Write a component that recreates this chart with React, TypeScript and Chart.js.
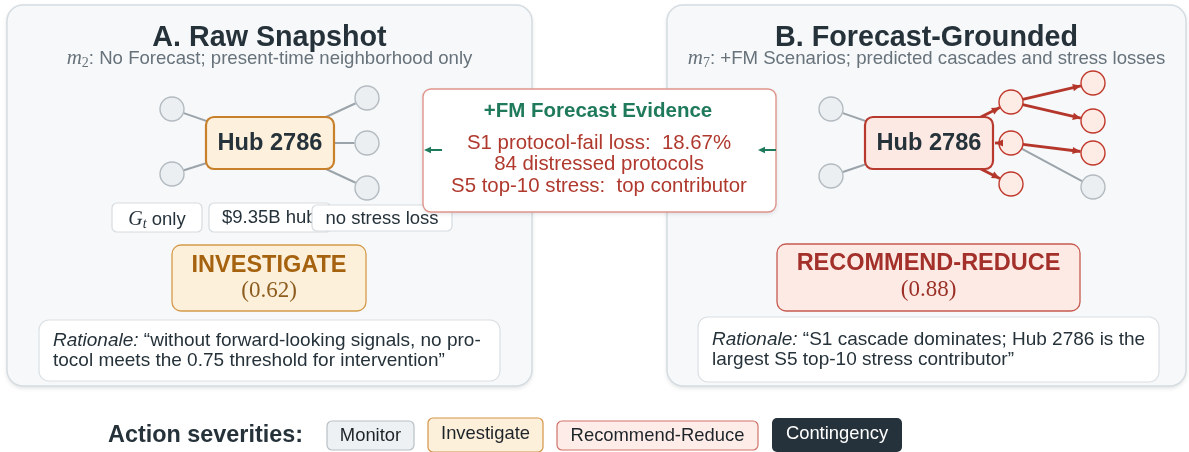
import React, { useEffect, useRef } from 'react';
import { Chart, registerables } from 'chart.js';

Chart.register(...registerables);

// ---------------- content ----------------
const panelTitles = ['A. Raw Snapshot', 'B. Forecast-Grounded'];
const modelIndex = ['2', '7'];
const panelSubtitles = [
  ': No Forecast; present-time neighborhood only',
  ': +FM Scenarios; predicted cascades and stress losses',
];
const hubName = 'Hub 2786';
const decisions = ['INVESTIGATE', 'RECOMMEND-REDUCE'];
const confidences = [0.62, 0.88];
const rationaleLabel = 'Rationale:';
const rationaleA = ['“without forward-looking signals, no pro-', 'tocol meets the 0.75 threshold for intervention”'];
const rationaleB = ['“S1 cascade dominates; Hub 2786 is the', 'largest S5 top-10 stress contributor”'];
const snapshotTags = ['only', '$9.35B hub', 'no stress loss'];
const evidenceTitle = '+FM Forecast Evidence';
const evidenceLines = ['S1 protocol-fail loss:  18.67%', '84 distressed protocols', 'S5 top-10 stress:  top contributor'];
const legendTitle = 'Action severities:';
const severityLevels = ['Monitor', 'Investigate', 'Recommend-Reduce', 'Contingency'];

// graph nodes: id, kind
const nodeIds = ['hubA', 'a1', 'a2', 'a3', 'a4', 'a5', 'hubB', 'b1', 'b2', 'r1', 'r2', 'r3', 'c1', 'c2', 'c3', 'g1'];
const nodeKinds = ['hub', 'gray', 'gray', 'gray', 'gray', 'gray', 'hub', 'gray', 'gray', 'red', 'red', 'red', 'red', 'red', 'red', 'gray'];
// edges: from, to, kind
const edgeFrom = ['hubA', 'hubA', 'hubA', 'hubA', 'hubA', 'hubB', 'hubB', 'hubB', 'hubB', 'r2', 'r1', 'r1', 'r2', 'r2'];
const edgeTo = ['a1', 'a2', 'a3', 'a4', 'a5', 'b1', 'b2', 'r1', 'r3', 'hubB', 'c1', 'c2', 'c3', 'g1'];
const edgeKind = ['plain', 'plain', 'plain', 'plain', 'plain', 'plain', 'plain', 'cascade', 'cascade', 'cascade', 'cascade', 'cascade', 'cascade', 'plain'];

// ---------------- layout (diagram coordinates = pixels) ----------------
const W = 1189;
const H = 452;
const nodeX = [270, 172, 172, 367, 367, 367, 929, 831, 831, 1011, 1011, 1011, 1093, 1093, 1093, 1093];
const nodeY = [143, 109, 174, 98, 143, 188, 143, 109, 176, 102, 143, 184, 83, 121, 153, 187];
const NODE_R = 12;
const HUB_HW = 64;
const HUB_HH = 26;

const SANS = '"Liberation Sans", Arial, Helvetica, sans-serif';
const SERIF = '"Liberation Serif", "DejaVu Serif", serif';
const DARK = '#26323a';
const SUB = '#67727a';

const nodeIndex = (id: string) => nodeIds.indexOf(id);

function edgeGeometry(i: number) {
  const a = nodeIndex(edgeFrom[i]);
  const b = nodeIndex(edgeTo[i]);
  const ax = nodeX[a], ay = nodeY[a], bx = nodeX[b], by = nodeY[b];
  const dx = bx - ax, dy = by - ay;
  const L = Math.hypot(dx, dy);
  const ux = dx / L, uy = dy / L;
  let sx = ax, sy = ay, ex = bx, ey = by;
  if (nodeKinds[a] !== 'hub') { sx = ax + ux * NODE_R; sy = ay + uy * NODE_R; }
  if (nodeKinds[b] !== 'hub') { ex = bx - ux * (NODE_R + 0.5); ey = by - uy * (NODE_R + 0.5); }
  else {
    const vx = ax - bx, vy = ay - by;
    const s = Math.min(vx !== 0 ? HUB_HW / Math.abs(vx) : Infinity, vy !== 0 ? HUB_HH / Math.abs(vy) : Infinity);
    ex = bx + vx * s - ux * 2;
    ey = by + vy * s - uy * 2;
  }
  return [{ x: sx, y: sy }, { x: ex, y: ey }];
}

function rr(ctx: CanvasRenderingContext2D, x0: number, y0: number, x1: number, y1: number, r: number, fill: string | null, stroke: string | null, lw = 1.5) {
  ctx.beginPath();
  ctx.moveTo(x0 + r, y0);
  ctx.lineTo(x1 - r, y0);
  ctx.arcTo(x1, y0, x1, y0 + r, r);
  ctx.lineTo(x1, y1 - r);
  ctx.arcTo(x1, y1, x1 - r, y1, r);
  ctx.lineTo(x0 + r, y1);
  ctx.arcTo(x0, y1, x0, y1 - r, r);
  ctx.lineTo(x0, y0 + r);
  ctx.arcTo(x0, y0, x0 + r, y0, r);
  ctx.closePath();
  if (fill) { ctx.fillStyle = fill; ctx.fill(); }
  if (stroke) { ctx.shadowColor = 'transparent'; ctx.strokeStyle = stroke; ctx.lineWidth = lw; ctx.stroke(); }
}

type Seg = { t: string; f: string; c: string; dy?: number };
function drawSegs(ctx: CanvasRenderingContext2D, segs: Seg[], x: number, y: number, align: 'left' | 'center') {
  let total = 0;
  for (const s of segs) { ctx.font = s.f; total += ctx.measureText(s.t).width; }
  let cx = align === 'center' ? x - total / 2 : x;
  ctx.textAlign = 'left';
  ctx.textBaseline = 'alphabetic';
  for (const s of segs) {
    ctx.font = s.f;
    ctx.fillStyle = s.c;
    ctx.fillText(s.t, cx, y + (s.dy || 0));
    cx += ctx.measureText(s.t).width;
  }
}

function text(ctx: CanvasRenderingContext2D, t: string, x: number, y: number, font: string, color: string, align: CanvasTextAlign = 'center') {
  ctx.font = font;
  ctx.fillStyle = color;
  ctx.textAlign = align;
  ctx.textBaseline = 'middle';
  ctx.fillText(t, x, y);
}

function arrowHead(ctx: CanvasRenderingContext2D, x0: number, y0: number, x1: number, y1: number, len: number, half: number, color: string) {
  const dx = x1 - x0, dy = y1 - y0;
  const L = Math.hypot(dx, dy) || 1;
  const ux = dx / L, uy = dy / L;
  const bx = x1 - ux * len, by = y1 - uy * len;
  ctx.beginPath();
  ctx.moveTo(x1, y1);
  ctx.lineTo(bx - uy * half, by + ux * half);
  ctx.lineTo(bx + uy * half, by - ux * half);
  ctx.closePath();
  ctx.fillStyle = color;
  ctx.fill();
}

const diagramPlugin = {
  id: 'diagram',
  beforeDatasetsDraw(chart: any) {
    const ctx: CanvasRenderingContext2D = chart.ctx;
    const X = (v: number) => chart.scales.x.getPixelForValue(v);
    const Y = (v: number) => chart.scales.y.getPixelForValue(v);
    ctx.save();
    const panels = [[7, 5, 532, 386], [667, 5, 1186, 386]];
    panels.forEach((p, i) => {
      ctx.save();
      ctx.shadowColor = 'rgba(60,70,80,0.18)';
      ctx.shadowBlur = 4;
      ctx.shadowOffsetY = 2;
      rr(ctx, X(p[0]), Y(p[1]), X(p[2]), Y(p[3]), 16, '#f6f8fa', null);
      ctx.restore();
      rr(ctx, X(p[0]), Y(p[1]), X(p[2]), Y(p[3]), 16, null, '#d5dce1', 1.5);
      const cx = (p[0] + p[2]) / 2;
      ctx.font = `bold 28.7px ${SANS}`;
      ctx.fillStyle = DARK;
      ctx.textAlign = 'center';
      ctx.textBaseline = 'alphabetic';
      ctx.fillText(panelTitles[i], X(cx), Y(46));
      drawSegs(ctx, [
        { t: 'm', f: `italic 21px ${SERIF}`, c: SUB },
        { t: modelIndex[i], f: `14px ${SERIF}`, c: SUB, dy: 3 },
        { t: panelSubtitles[i], f: `18.6px ${SANS}`, c: SUB },
      ], X(cx), Y(64), 'center');
    });
    ctx.restore();
  },
  afterDatasetsDraw(chart: any) {
    const ctx: CanvasRenderingContext2D = chart.ctx;
    const X = (v: number) => chart.scales.x.getPixelForValue(v);
    const Y = (v: number) => chart.scales.y.getPixelForValue(v);
    ctx.save();
    // hub boxes
    const hubStyles = [
      { fill: '#fdf0dc', stroke: '#c9802a' },
      { fill: '#fde9e3', stroke: '#b8392e' },
    ];
    ['hubA', 'hubB'].forEach((id, i) => {
      const k = nodeIndex(id);
      rr(ctx, X(nodeX[k] - HUB_HW), Y(nodeY[k] - HUB_HH), X(nodeX[k] + HUB_HW), Y(nodeY[k] + HUB_HH), 8, hubStyles[i].fill, hubStyles[i].stroke, 2.2);
      text(ctx, hubName, X(nodeX[k]), Y(nodeY[k]), `bold 23.6px ${SANS}`, DARK);
    });
    // arrow heads on cascade edges
    chart.data.datasets.forEach((ds: any, i: number) => {
      if (!ds.arrowHead) return;
      const meta = chart.getDatasetMeta(i);
      const p0 = meta.data[0], p1 = meta.data[1];
      arrowHead(ctx, p0.x, p0.y, p1.x, p1.y, 8, 3.6, ds.borderColor);
    });
    // snapshot tags
    const tagBox = (x0: number, y0: number, x1: number, y1: number) => rr(ctx, X(x0), Y(y0), X(x1), Y(y1), 5, '#ffffff', '#d7dce0', 1.2);
    tagBox(112, 203, 202, 232);
    drawSegs(ctx, [
      { t: 'G', f: `italic 20px ${SERIF}`, c: DARK },
      { t: 't', f: `italic 14px ${SERIF}`, c: DARK, dy: 3 },
      { t: ' ' + snapshotTags[0], f: `18.5px ${SANS}`, c: DARK },
    ], X(157), Y(224.5), 'center');
    tagBox(209, 203, 331, 232);
    text(ctx, snapshotTags[1], X(222), Y(218), `18.5px ${SANS}`, DARK, 'left');
    tagBox(312, 205, 452, 231);
    text(ctx, snapshotTags[2], X(382), Y(218.5), `18.5px ${SANS}`, DARK);
    // decision boxes
    rr(ctx, X(172), Y(245), X(366), Y(311), 9, '#fdf0da', '#d49a4a', 1.3);
    text(ctx, decisions[0], X(269), Y(266), `bold 23.5px ${SANS}`, '#a5620f');
    text(ctx, `(${confidences[0].toFixed(2)})`, X(269), Y(291), `23px ${SERIF}`, '#8d5c1f');
    rr(ctx, X(777), Y(244), X(1080), Y(311), 9, '#fdeae5', '#c65a50', 1.3);
    text(ctx, decisions[1], X(928.5), Y(264), `bold 23.5px ${SANS}`, '#a3302a');
    text(ctx, `(${confidences[1].toFixed(2)})`, X(928.5), Y(290), `23px ${SERIF}`, '#9b3027');
    // rationale boxes
    const rationale = (x0: number, y0: number, x1: number, y1: number, lines: string[], tx: number, ty: number) => {
      rr(ctx, X(x0), Y(y0), X(x1), Y(y1), 10, '#ffffff', '#dbe0e4', 1.2);
      drawSegs(ctx, [
        { t: rationaleLabel, f: `italic 19px ${SANS}`, c: DARK },
        { t: ' ' + lines[0], f: `19px ${SANS}`, c: DARK },
      ], X(tx), Y(ty + 6.5), 'left');
      text(ctx, lines[1], X(tx), Y(ty + 22), `19px ${SANS}`, DARK, 'left');
    };
    rationale(39, 320, 500, 381, rationaleA, 53, 339);
    rationale(698, 317, 1159, 382, rationaleB, 712, 338);
    // evidence box
    ctx.save();
    ctx.shadowColor = 'rgba(60,70,80,0.15)';
    ctx.shadowBlur = 4;
    ctx.shadowOffsetY = 2;
    rr(ctx, X(423), Y(89), X(776), Y(212), 8, '#ffffff', null);
    ctx.restore();
    rr(ctx, X(423), Y(89), X(776), Y(212), 8, null, '#e0958c', 1.4);
    text(ctx, evidenceTitle, X(598), Y(111), `bold 20.5px ${SANS}`, '#1f7a5c');
    evidenceLines.forEach((l, i) => text(ctx, l, X(599), Y(143 + i * 21.5), `20.4px ${SANS}`, '#b0392e'));
    const greenArrows = [[442, 150, 424, 150], [776, 150, 758, 150]];
    greenArrows.forEach((a) => {
      ctx.beginPath();
      ctx.moveTo(X(a[0]), Y(a[1]));
      ctx.lineTo(X(a[2]) + 4, Y(a[3]));
      ctx.strokeStyle = '#1f7a5c';
      ctx.lineWidth = 2;
      ctx.stroke();
      arrowHead(ctx, X(a[0]), Y(a[1]), X(a[2]), Y(a[3]), 7, 3.2, '#1f7a5c');
    });
    // legend
    text(ctx, legendTitle, X(108), Y(436), `bold 23.4px ${SANS}`, DARK, 'left');
    const legBoxes = [
      { b: [327, 421, 414, 450], fill: '#eef1f4', stroke: '#b8c0c6', color: '#1d2429', ty: 436 },
      { b: [428, 418, 543, 452], fill: '#fdf0da', stroke: '#d4944a', color: '#1d2429', ty: 434 },
      { b: [557, 421, 758, 450], fill: '#fdece7', stroke: '#d0736b', color: '#1d2429', ty: 436 },
      { b: [772, 418, 902, 452], fill: '#25323b', stroke: null, color: '#ffffff', ty: 434 },
    ];
    legBoxes.forEach((lb, i) => {
      rr(ctx, X(lb.b[0]), Y(lb.b[1]), X(lb.b[2]), Y(lb.b[3]), 5, lb.fill, lb.stroke, 1.2);
      text(ctx, severityLevels[i], X((lb.b[0] + lb.b[2]) / 2), Y(lb.ty), `18.4px ${SANS}`, lb.color);
    });
    ctx.restore();
  },
};

export default function App() {
  const ref = useRef<HTMLCanvasElement | null>(null);
  useEffect(() => {
    if (!ref.current) return;
    const datasets: any[] = [];
    // edges
    edgeFrom.forEach((_, i) => {
      const cascade = edgeKind[i] === 'cascade';
      datasets.push({
        type: 'scatter',
        data: edgeGeometry(i),
        showLine: true,
        borderColor: cascade ? '#b5372b' : '#9ba4aa',
        borderWidth: cascade ? 2.8 : 2,
        pointRadius: 0,
        clip: false,
        order: 5,
        arrowHead: cascade,
      });
    });
    // nodes
    const kinds = [
      { kind: 'gray', fill: '#eceff2', stroke: '#b3bbc0' },
      { kind: 'red', fill: '#fdebe6', stroke: '#c0392b' },
    ];
    kinds.forEach((k) => {
      const pts = nodeIds.map((_, i) => i).filter((i) => nodeKinds[i] === k.kind).map((i) => ({ x: nodeX[i], y: nodeY[i] }));
      datasets.push({
        type: 'scatter',
        data: pts,
        pointRadius: NODE_R,
        pointBackgroundColor: k.fill,
        pointBorderColor: k.stroke,
        pointBorderWidth: 1.4,
        showLine: false,
        clip: false,
        order: 1,
      });
    });
    const chart = new Chart(ref.current, {
      type: 'scatter',
      data: { datasets },
      options: {
        animation: false,
        responsive: false,
        maintainAspectRatio: false,
        events: [],
        layout: { padding: 0, autoPadding: false },
        plugins: { legend: { display: false }, tooltip: { enabled: false } },
        scales: {
          x: { type: 'linear', min: 0, max: W, display: false },
          y: { type: 'linear', min: 0, max: H, reverse: true, display: false },
        },
      },
      plugins: [diagramPlugin],
    } as any);
    return () => chart.destroy();
  }, []);
  return (
    <div style={{ position: 'absolute', left: 0, top: 0, width: W, height: H, background: '#ffffff' }}>
      <canvas ref={ref} width={W} height={H} style={{ display: 'block', width: W, height: H }} />
    </div>
  );
}
